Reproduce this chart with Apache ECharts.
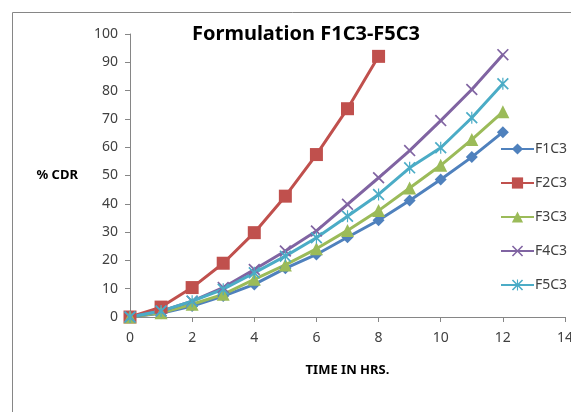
<!DOCTYPE html>
<html>
<head>
<meta charset="utf-8">
<script src="https://cdn.jsdelivr.net/npm/echarts@6/dist/echarts.min.js"></script>
<style>
  html, body { margin: 0; padding: 0; background: #fff; }
  #chart { width: 571px; height: 412px; }
</style>
</head>
<body>
<div id="chart"></div>
<script>
// 数据
var hours = [0, 1, 2, 3, 4, 5, 6, 7, 8, 9, 10, 11, 12];
var f1c3 = [0, 1.3, 3.9, 7.4, 11.5, 17.2, 22.1, 28.2, 34.2, 41.2, 48.6, 56.5, 65.3];
var f2c3 = [0, 3.5, 10.4, 19.0, 29.8, 42.7, 57.4, 73.6, 92.1];
var f3c3 = [0, 1.5, 4.5, 8.0, 13.3, 18.4, 24.1, 30.6, 37.6, 45.6, 53.6, 62.7, 72.5];
var f4c3 = [0, 2.1, 5.6, 10.4, 16.8, 23.3, 30.4, 39.8, 49.2, 58.8, 69.4, 80.4, 92.7];
var f5c3 = [0, 2.1, 5.6, 9.8, 15.6, 21.5, 28.0, 35.6, 43.3, 52.7, 59.8, 70.4, 82.4];
var seriesNames = ["F1C3", "F2C3", "F3C3", "F4C3", "F5C3"];
var yTicks = [0, 10, 20, 30, 40, 50, 60, 70, 80, 90, 100];
var xTicks = [0, 2, 4, 6, 8, 10, 12, 14];

(function() {
  var myChart = echarts.init(document.getElementById("chart"));
  var font = "'Noto Sans', sans-serif";
  var colors = ["#4F81BD", "#C0504D", "#9BBB59", "#8064A2", "#4BACC6"];
  var xMark = "path://M0,1L1,0L5,4L9,0L10,1L6,5L10,9L9,10L5,6L1,10L0,9L4,5Z";
  var starMark = "path://M0,1L1,0L5,4L9,0L10,1L6,5L10,9L9,10L5,6L1,10L0,9L4,5Z M4.5,0L5.5,0L5.5,10L4.5,10Z";
  var symbols = ["diamond", "rect", "triangle", xMark, starMark];
  var sizes = [12, 13, 13, 12, 12];
  var values = [f1c3, f2c3, f3c3, f4c3, f5c3];

  function pairs(arr) {
    return arr.map(function(v, i) { return [hours[i], v]; });
  }

  var series = seriesNames.map(function(name, k) {
    return {
      name: name,
      type: 'line',
      data: pairs(values[k]),
      symbol: symbols[k],
      symbolSize: sizes[k],
      lineStyle: { color: colors[k], width: 3 },
      itemStyle: { color: colors[k] }
    };
  });

  var option = {
    animation: false,
    color: colors,
    title: {
      text: "Formulation F1C3-F5C3",
      left: 301,
      top: 19,
      textAlign: 'center',
      textStyle: { fontFamily: font, fontSize: 20, fontWeight: 'bold', color: '#000' }
    },
    legend: {
      orient: 'vertical',
      left: 500,
      top: 142,
      padding: 0,
      itemWidth: 33,
      itemHeight: 14,
      itemGap: 20,
      data: seriesNames,
      textStyle: { fontFamily: font, fontSize: 14, color: '#404040', padding: [0, 0, 0, -4] }
    },
    grid: {
      left: 130,
      right: 6,
      top: 34,
      bottom: 95,
      outerBoundsMode: 'none'
    },
    xAxis: {
      type: 'value',
      min: xTicks[0],
      max: xTicks[xTicks.length - 1],
      interval: 2,
      name: "TIME IN HRS.",
      nameLocation: 'middle',
      nameGap: 47,
      nameTextStyle: { fontFamily: font, fontSize: 13, fontWeight: 'bold', color: '#000' },
      axisLine: { lineStyle: { color: '#868686', width: 1 } },
      axisTick: { show: true, length: 5, lineStyle: { color: '#868686' } },
      axisLabel: { fontFamily: font, fontSize: 14, color: '#404040', margin: 14 },
      splitLine: { show: false }
    },
    yAxis: {
      type: 'value',
      min: yTicks[0],
      max: yTicks[yTicks.length - 1],
      interval: 10,
      name: "% CDR",
      nameLocation: 'middle',
      nameRotate: 0,
      nameGap: 52,
      nameTextStyle: { fontFamily: font, fontSize: 13, fontWeight: 'bold', color: '#000' },
      axisLine: { show: true, lineStyle: { color: '#868686', width: 1 } },
      axisTick: { show: true, length: 5, lineStyle: { color: '#868686' } },
      axisLabel: { fontFamily: font, fontSize: 14, color: '#404040', margin: 12 },
      splitLine: { show: false }
    },
    graphic: [{
      type: 'rect',
      shape: { x: 12.5, y: 12.5, width: 700, height: 500 },
      style: { fill: 'none', stroke: '#868686', lineWidth: 1 },
      z: -1
    }],
    series: series
  };
  myChart.setOption(option);
  window.addEventListener("resize", function() {
    myChart.resize();
  });
})();
</script>
</body>
</html>
